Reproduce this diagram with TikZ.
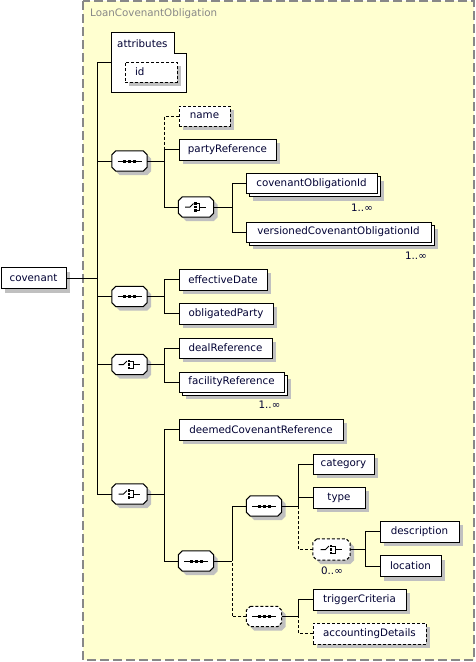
\documentclass[tikz,border=0pt]{standalone}
\usepackage{fontspec}
\setmainfont{DejaVu Sans}
\usetikzlibrary{shadows}
\definecolor{bgyellow}{RGB}{255,255,208}
\definecolor{shadowgray}{RGB}{192,192,192}
\definecolor{framegray}{RGB}{136,136,136}
\definecolor{txt}{RGB}{0,0,51}
\newcommand\elfont{\fontsize{10.3pt}{12pt}\selectfont}
\newcommand\octapath[3]{([xshift=#2+4pt,yshift=#3]#1.north west) -- ([xshift=#2-4pt,yshift=#3]#1.north east) -- ([xshift=#2,yshift=#3-4pt]#1.north east) -- ([xshift=#2,yshift=#3+4pt]#1.south east) -- ([xshift=#2-4pt,yshift=#3]#1.south east) -- ([xshift=#2+4pt,yshift=#3]#1.south west) -- ([xshift=#2,yshift=#3+4pt]#1.south west) -- ([xshift=#2,yshift=#3-4pt]#1.north west) -- cycle}
\newcommand\octa[2][]{\fill[shadowgray] \octapath{#2}{4pt}{-4pt}; \draw[line width=1pt, fill=white, #1] \octapath{#2}{0pt}{0pt};}
\tikzset{
  box/.style={draw=black, fill=white, line width=1pt, inner sep=0pt,
    minimum height=20pt, text=txt, font=\elfont},
  sh4/.style={general shadow={fill=shadowgray, shadow xshift=4pt, shadow yshift=-4pt}},
  el/.style={box, sh4},
  multi/.style={box,
    general shadow={fill=shadowgray, shadow xshift=7pt, shadow yshift=-7pt},
    general shadow={fill=white, draw=black, line width=1pt, shadow xshift=3pt, shadow yshift=-3pt}},
  opt/.style={dash pattern=on 3pt off 2pt},
  comp/.style={rectangle, inner sep=0pt, minimum width=35pt, minimum height=20pt},
  link/.style={draw=black, line width=1pt},
  optlink/.style={link, dash pattern=on 3pt off 2pt},
  lbl/.style={inner sep=0pt, text=txt, font=\elfont},
  pics/seqsym/.style={code={
    \draw[line width=1pt] (-12,0) -- (12,0);
    \foreach \dx in {-5,0,5} \fill (\dx-1.5,-1.5) rectangle (\dx+1.5,1.5);
  }},
  pics/choicesym/.style={code={
    \draw[line width=1pt] (-11,0) -- (-6,0) -- (-2.5,-3.5);
    \foreach \dy in {-3.5,0,3.5} \fill (-2,\dy-1.25) rectangle (0.5,\dy+1.25);
    \draw[line width=1pt] (0.5,-3.5) -- (3.5,-3.5) -- (3.5,3.5) -- (0.5,3.5);
    \draw[line width=1pt] (3.5,0) -- (10,0);
  }},
}
\begin{document}
\begin{tikzpicture}[x=1pt,y=-1pt]
\useasboundingbox (0,0) rectangle (475,662);
% frame
\fill[bgyellow] (83,1) rectangle (474,660);
\draw[framegray, line width=1.5pt, dash pattern=on 9pt off 4pt] (83,1) rectangle (474,660);
\node[anchor=west, inner sep=0pt, text=framegray, font=\elfont] (title) at (90,13.5) {LoanCovenantObligation};

% root
\node[el, minimum width=65pt, minimum height=21pt] (covenant) at (33.5,278) {covenant};

% attributes
\node[inner sep=0pt, minimum width=75pt, minimum height=59pt] (attributes) at (149.5,62.5) {};
\draw[fill=white, line width=1pt] (attributes.north west) -- ++(63,0) -- ++(0,21) -- ++(12,0) |- (attributes.south west) -- cycle;
\node[lbl, anchor=west] (attrlabel) at (117,44) {attributes};
\node[el, opt, minimum width=52pt] (id) at (151,72) {\hbox to 32pt{id\hfil}};

% compositors
\node[comp] (seq1) at (129.5,161) {};
\node[comp] (choice1) at (196,207) {};
\node[comp] (seq2) at (129.5,296.5) {};
\node[comp] (choice2) at (129.5,364.5) {};
\node[comp] (choice3) at (129.5,494) {};
\node[comp] (seq3) at (196,561) {};
\node[comp] (seq4) at (264,506) {};
\node[comp, minimum width=37pt, minimum height=21pt] (choice4) at (331.5,549.5) {};
\node[comp] (seq5) at (264,616.5) {};
\octa{seq1}
\octa{choice1}
\octa{seq2}
\octa{choice2}
\octa{choice3}
\octa{seq3}
\octa{seq4}
\octa[opt]{choice4}
\octa[opt]{seq5}

% elements
\node[el, opt, minimum width=51pt] (name) at (204.5,116) {name};
\node[el, minimum width=97pt, minimum height=21pt] (partyReference) at (227.5,149.5) {partyReference};
\node[multi, minimum width=131pt] (covObl) at (311.5,183.5) {covenantObligationId};
\node[multi, minimum width=185pt] (versioned) at (338.5,232) {versionedCovenantObligationId};
\node[el, minimum width=88pt, minimum height=21pt] (effectiveDate) at (223,279.5) {effectiveDate};
\node[el, minimum width=94pt, minimum height=21pt] (obligatedParty) at (226,313.5) {obligatedParty};
\node[el, minimum width=93pt] (dealReference) at (225.5,348) {dealReference};
\node[multi, minimum width=105pt] (facilityReference) at (231.5,382) {facilityReference};
\node[el, minimum width=164pt, minimum height=21pt] (deemed) at (261,429.5) {deemedCovenantReference};
\node[el, minimum width=61pt] (category) at (343.5,464) {category};
\node[el, minimum width=52pt, minimum height=21pt] (type) at (339,497.5) {type};
\node[el, minimum width=79pt, minimum height=21pt] (description) at (419.5,531.5) {description};
\node[el, minimum width=61pt, minimum height=21pt] (location) at (410.5,566) {location};
\node[el, minimum width=93pt, minimum height=21pt] (trigger) at (359.5,599.5) {triggerCriteria};
\node[el, opt, minimum width=113pt, minimum height=21pt] (accounting) at (369.5,633.5) {accountingDetails};

% occurrence labels
\node[lbl] (occ1) at (362,208) {1..∞};
\node[lbl] (occ2) at (416,256) {1..∞};
\node[lbl] (occ3) at (269.5,405) {1..∞};
\node[lbl] (occ4) at (332,571) {0..∞};

% junctions
\coordinate (t0) at (97,278);
\coordinate (j1) at (164,161);
\coordinate (j2) at (232,207);
\coordinate (j3) at (164,296.5);
\coordinate (j4) at (164,364.5);
\coordinate (j5) at (164,494);
\coordinate (j6) at (232,561);
\coordinate (j7) at (298,506);
\coordinate (j8) at (365,549.5);
\coordinate (j9) at (298,616.5);

% connectors
\draw[link] (covenant.east) -- (t0);
\draw[link] (attributes.west) -| (t0);
\draw[link] (seq1.west) -| (t0);
\draw[link] (seq2.west) -| (t0);
\draw[link] (choice2.west) -| (t0);
\draw[link] (choice3.west) -| (t0);

\draw[link] (seq1.east) -- (j1);
\draw[optlink] (name.west) -| (j1);
\draw[link] (partyReference.west) -| (j1);
\draw[link] (choice1.west) -| (j1);

\draw[link] (choice1.east) -- (j2);
\draw[link] (covObl.west) -| (j2);
\draw[link] (versioned.west) -| (j2);

\draw[link] (seq2.east) -- (j3);
\draw[link] (effectiveDate.west) -| (j3);
\draw[link] (obligatedParty.west) -| (j3);

\draw[link] (choice2.east) -- (j4);
\draw[link] (dealReference.west) -| (j4);
\draw[link] (facilityReference.west) -| (j4);

\draw[link] (choice3.east) -- (j5);
\draw[link] (deemed.west) -| (j5);
\draw[link] (seq3.west) -| (j5);

\draw[link] (seq3.east) -- (j6);
\draw[link] (seq4.west) -| (j6);
\draw[optlink] (seq5.west) -| (j6);

\draw[link] (seq4.east) -- (j7);
\draw[link] (category.west) -| (j7);
\draw[link] (type.west) -| (j7);
\draw[optlink] (choice4.west) -| (j7);

\draw[link] (choice4.east) -- (j8);
\draw[link] (description.west) -| (j8);
\draw[link] (location.west) -| (j8);

\draw[link] (seq5.east) -- (j9);
\draw[link] (trigger.west) -| (j9);
\draw[optlink] (accounting.west) -| (j9);

% compositor symbols
\pic at (seq1) {seqsym};
\pic at (seq2) {seqsym};
\pic at (seq3) {seqsym};
\pic at (seq4) {seqsym};
\pic at (seq5) {seqsym};
\pic at (choice1) {choicesym};
\pic at (choice2) {choicesym};
\pic at (choice3) {choicesym};
\pic at (choice4) {choicesym};
\end{tikzpicture}
\end{document}
